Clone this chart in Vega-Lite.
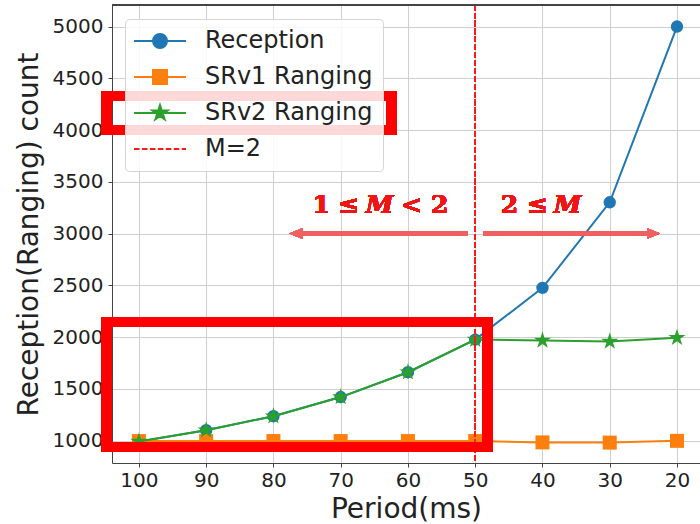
{
  "$schema": "https://vega.github.io/schema/vega-lite/v6.json",
  "autosize": {"type": "none"},
  "padding": {"left": 112, "top": 5, "right": 0, "bottom": 61},
  "width": 588,
  "height": 458,
  "background": "white",
  "config": {
    "view": {"stroke": null},
    "axis": {
      "grid": true, "gridColor": "#cfcfcf", "gridWidth": 1,
      "domainColor": "#444", "domainWidth": 1, "tickColor": "#444", "tickSize": 4,
      "labelFont": "DejaVu Sans", "labelFontSize": 20, "labelColor": "#222",
      "titleFont": "DejaVu Sans", "titleFontSize": 28, "titleFontWeight": "normal", "titleColor": "#222"
    },
    "legend": {
      "orient": "none", "legendX": 13, "legendY": 14,
      "fillColor": "rgba(255,255,255,0.85)", "strokeColor": "#d5d5d5", "cornerRadius": 4,
      "padding": 10, "rowPadding": 12, "labelOffset": 46, "labelLimit": 400,
      "labelFont": "DejaVu Sans", "labelFontSize": 24, "labelColor": "#222",
      "symbolSize": 400, "symbolStrokeWidth": 2, "symbolOpacity": 1, "title": null
    }
  },
  "data": {
    "values": [
      {"period": 100, "value": 990, "series": "Reception"},
      {"period": 90, "value": 1100, "series": "Reception"},
      {"period": 80, "value": 1235, "series": "Reception"},
      {"period": 70, "value": 1420, "series": "Reception"},
      {"period": 60, "value": 1660, "series": "Reception"},
      {"period": 50, "value": 1975, "series": "Reception"},
      {"period": 40, "value": 2475, "series": "Reception"},
      {"period": 30, "value": 3302, "series": "Reception"},
      {"period": 20, "value": 5000, "series": "Reception"},
      {"period": 100, "value": 995, "series": "SRv1 Ranging"},
      {"period": 90, "value": 995, "series": "SRv1 Ranging"},
      {"period": 80, "value": 995, "series": "SRv1 Ranging"},
      {"period": 70, "value": 995, "series": "SRv1 Ranging"},
      {"period": 60, "value": 995, "series": "SRv1 Ranging"},
      {"period": 50, "value": 995, "series": "SRv1 Ranging"},
      {"period": 40, "value": 982, "series": "SRv1 Ranging"},
      {"period": 30, "value": 980, "series": "SRv1 Ranging"},
      {"period": 20, "value": 997, "series": "SRv1 Ranging"},
      {"period": 100, "value": 990, "series": "SRv2 Ranging"},
      {"period": 90, "value": 1100, "series": "SRv2 Ranging"},
      {"period": 80, "value": 1235, "series": "SRv2 Ranging"},
      {"period": 70, "value": 1420, "series": "SRv2 Ranging"},
      {"period": 60, "value": 1660, "series": "SRv2 Ranging"},
      {"period": 50, "value": 1975, "series": "SRv2 Ranging"},
      {"period": 40, "value": 1966, "series": "SRv2 Ranging"},
      {"period": 30, "value": 1956, "series": "SRv2 Ranging"},
      {"period": 20, "value": 1993, "series": "SRv2 Ranging"}
    ]
  },
  "layer": [
    {
      "transform": [{"filter": "datum.series === 'Reception'"}],
      "mark": {"type": "line", "color": "#1f77b4", "strokeWidth": 2},
      "encoding": {
        "x": {"field": "period", "type": "quantitative", "title": "Period(ms)",
              "scale": {"domain": [104, 16.58], "nice": false, "zero": false},
              "axis": {"values": [100, 90, 80, 70, 60, 50, 40, 30, 20], "labelPadding": 3, "titlePadding": 5}},
        "y": {"field": "value", "type": "quantitative", "title": "Reception(Ranging) count",
              "scale": {"domain": [783, 5208], "nice": false, "zero": false},
              "axis": {"values": [1000, 1500, 2000, 2500, 3000, 3500, 4000, 4500, 5000], "format": "d", "labelPadding": 5, "titlePadding": 9}}
      }
    },
    {
      "transform": [{"filter": "datum.series === 'Reception'"}],
      "mark": {"type": "point", "shape": "circle", "filled": true, "size": 154, "color": "#1f77b4", "opacity": 1},
      "encoding": {
        "x": {"field": "period", "type": "quantitative"},
        "y": {"field": "value", "type": "quantitative"}
      }
    },
    {
      "transform": [{"filter": "datum.series === 'SRv1 Ranging'"}],
      "mark": {"type": "line", "color": "#ff7f0e", "strokeWidth": 2},
      "encoding": {
        "x": {"field": "period", "type": "quantitative"},
        "y": {"field": "value", "type": "quantitative"}
      }
    },
    {
      "transform": [{"filter": "datum.series === 'SRv1 Ranging'"}],
      "mark": {"type": "point", "shape": "square", "filled": true, "size": 196, "color": "#ff7f0e", "opacity": 1},
      "encoding": {
        "x": {"field": "period", "type": "quantitative"},
        "y": {"field": "value", "type": "quantitative"}
      }
    },
    {
      "transform": [{"filter": "datum.series === 'SRv2 Ranging'"}],
      "mark": {"type": "line", "color": "#2ca02c", "strokeWidth": 2},
      "encoding": {
        "x": {"field": "period", "type": "quantitative"},
        "y": {"field": "value", "type": "quantitative"}
      }
    },
    {
      "transform": [{"filter": "datum.series === 'SRv2 Ranging'"}],
      "mark": {"type": "point", "shape": "M0,-1L0.2245,-0.309L0.9511,-0.309L0.3633,0.118L0.5878,0.809L0,0.382L-0.5878,0.809L-0.3633,0.118L-0.9511,-0.309L-0.2245,-0.309Z", "filled": true, "size": 324, "color": "#2ca02c", "opacity": 1},
      "encoding": {
        "x": {"field": "period", "type": "quantitative"},
        "y": {"field": "value", "type": "quantitative"}
      }
    },
    {
      "mark": {"type": "rule", "color": "#ff1a1a", "strokeWidth": 1.5, "strokeDash": [5.5, 2.4]},
      "encoding": {"x": {"datum": 50}}
    },
    {
      "mark": {"type": "rule", "color": "#f06060", "strokeWidth": 4, "opacity": 0.9},
      "encoding": {"x": {"datum": 51.2}, "x2": {"datum": 76.5}, "y": {"datum": 3000}}
    },
    {
      "mark": {"type": "point", "shape": "M0,0L1,-0.4L1,0.4Z", "filled": true, "size": 676, "color": "#f06060", "opacity": 0.9},
      "encoding": {"x": {"datum": 77.64}, "y": {"datum": 3000}}
    },
    {
      "mark": {"type": "rule", "color": "#f06060", "strokeWidth": 4, "opacity": 0.9},
      "encoding": {"x": {"datum": 48.8}, "x2": {"datum": 23.6}, "y": {"datum": 3000}}
    },
    {
      "mark": {"type": "point", "shape": "M0,0L-1,-0.4L-1,0.4Z", "filled": true, "size": 676, "color": "#f06060", "opacity": 0.9},
      "encoding": {"x": {"datum": 22.52}, "y": {"datum": 3000}}
    },
    {
      "mark": {"type": "text", "text": "1 ≤", "font": "DejaVu Serif", "fontWeight": "bold", "fontSize": 25, "color": "#f01515", "align": "right", "baseline": "alphabetic"},
      "encoding": {"x": {"datum": 67.2}, "y": {"datum": 3198}}
    },
    {
      "mark": {"type": "text", "text": "M", "font": "DejaVu Serif", "fontWeight": "bold", "fontStyle": "italic", "fontSize": 25, "color": "#f01515", "align": "center", "baseline": "alphabetic"},
      "encoding": {"x": {"datum": 64.2}, "y": {"datum": 3198}}
    },
    {
      "mark": {"type": "text", "text": "< 2", "font": "DejaVu Serif", "fontWeight": "bold", "fontSize": 25, "color": "#f01515", "align": "left", "baseline": "alphabetic"},
      "encoding": {"x": {"datum": 61.0}, "y": {"datum": 3198}}
    },
    {
      "mark": {"type": "text", "text": "2 ≤", "font": "DejaVu Serif", "fontWeight": "bold", "fontSize": 25, "color": "#f01515", "align": "right", "baseline": "alphabetic"},
      "encoding": {"x": {"datum": 39.2}, "y": {"datum": 3198}}
    },
    {
      "mark": {"type": "text", "text": "M", "font": "DejaVu Serif", "fontWeight": "bold", "fontStyle": "italic", "fontSize": 25, "color": "#f01515", "align": "center", "baseline": "alphabetic"},
      "encoding": {"x": {"datum": 36.26}, "y": {"datum": 3198}}
    },
    {
      "mark": {"type": "rule", "color": "#444", "strokeWidth": 1},
      "encoding": {"y": {"datum": 5208}}
    },
    {
      "mark": {"type": "point", "filled": true, "clip": true, "opacity": 1},
      "encoding": {
        "x": {"datum": 500},
        "y": {"datum": 0},
        "shape": {"field": "series", "type": "nominal",
          "scale": {"domain": ["Reception", "SRv1 Ranging", "SRv2 Ranging", "M=2"],
                    "range": [
                      "M-1.3,0H3.9M0.6,0A0.7,0.7 0 1,0 2,0A0.7,0.7 0 1,0 0.6,0Z",
                      "M-1.3,0H3.9M0.6,-0.7H2V0.7H0.6Z",
                      "M-1.3,0H3.9M1.3,-0.8L1.4796,-0.2472L2.0609,-0.2472L1.5906,0.0944L1.7702,0.6472L1.3,0.3056L0.8298,0.6472L1.0094,0.0944L0.5391,-0.2472L1.1204,-0.2472Z",
                      "M-1.3,0H-0.745M-0.505,0H0.05M0.29,0H0.845M1.085,0H1.64M1.88,0H2.435M2.675,0H3.23M3.47,0H3.9"
                    ]},
          "legend": {"title": null}},
        "fill": {"field": "series", "type": "nominal",
          "scale": {"domain": ["Reception", "SRv1 Ranging", "SRv2 Ranging", "M=2"],
                    "range": ["#1f77b4", "#ff7f0e", "#2ca02c", "#ff1a1a"]},
          "legend": {"title": null}},
        "stroke": {"field": "series", "type": "nominal",
          "scale": {"domain": ["Reception", "SRv1 Ranging", "SRv2 Ranging", "M=2"],
                    "range": ["#1f77b4", "#ff7f0e", "#2ca02c", "#ff1a1a"]},
          "legend": {"title": null}}
      }
    },
    {
      "mark": {"type": "rect", "fillOpacity": 0, "stroke": "#ff0000", "strokeWidth": 10},
      "encoding": {"x": {"datum": 104.83}, "x2": {"datum": 62.49}, "y": {"datum": 4328}, "y2": {"datum": 4000}}
    },
    {
      "mark": {"type": "rect", "fillOpacity": 0, "stroke": "#ff0000", "strokeWidth": 10},
      "encoding": {"x": {"datum": 104.83}, "x2": {"datum": 48.22}, "y": {"datum": 2145}, "y2": {"datum": 937}}
    }
  ]
}
